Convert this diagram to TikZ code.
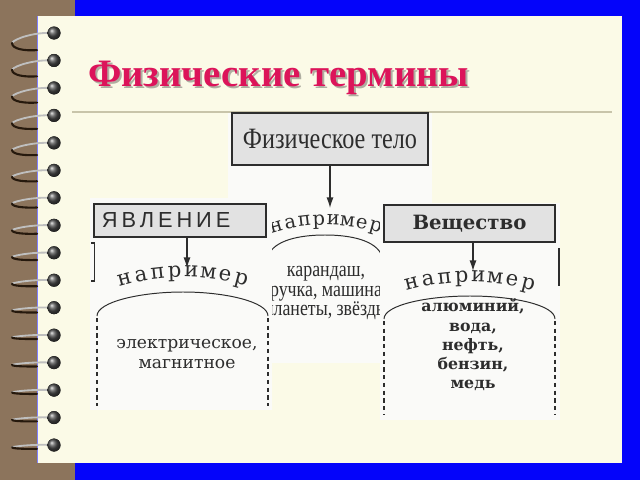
\documentclass[tikz,border=0pt]{standalone}
\usepackage{fontspec}
\setmainfont{Liberation Serif}
\newfontfamily\titlefont{Liberation Serif}
\newfontfamily\scanfont{DejaVu Serif}
\newfontfamily\narrowfont[FakeStretch=0.82]{Liberation Serif}
\newfontfamily\handfont[LetterSpace=18]{Liberation Sans}
\usetikzlibrary{arrows.meta}

\definecolor{pagecream}{RGB}{251,250,231}
\definecolor{scanwhite}{RGB}{250,250,248}
\definecolor{spinebrown}{RGB}{140,116,92}
\definecolor{frameblue}{RGB}{4,4,250}
\definecolor{titlered}{RGB}{220,20,90}
\definecolor{inkgray}{RGB}{45,45,45}
\definecolor{boxgray}{RGB}{226,226,226}
\definecolor{rulegray}{RGB}{200,196,170}

\tikzset{
  termbox/.style={draw=inkgray, fill=boxgray, line width=0.9pt, inner sep=0pt, text=inkgray},
  arrowdown/.style={draw=inkgray, line width=0.9pt, -{Latex[length=7.5pt,width=5pt]}},
  arcletter/.style={inner sep=0pt, anchor=base, text=inkgray, font=\scanfont\fontsize{15}{16}\selectfont},
  examples/.style={inner sep=0pt, text=inkgray, align=center},
  arcline/.style={draw=inkgray, line width=0.7pt},
  dashside/.style={draw=inkgray, line width=0.9pt, dash pattern=on 3pt off 2.5pt},
  wireup/.style={draw=black!25, line width=1.3pt, line cap=round},
  wiredown/.style={draw=black!80!brown, line width=1.5pt, line cap=round},
  hole/.style={shading=ball, ball color=black!70}
}

\begin{document}
\begin{tikzpicture}[x=0.025cm, y=-0.025cm]
    \useasboundingbox (0,0) rectangle (640,480);

    % Background: spine, frame and page
    \fill[spinebrown] (0,0) rectangle (75,480);
    \fill[frameblue] (75,0) rectangle (640,480);
    \fill[pagecream] (37,16) rectangle (622,463);
    \draw[blue!50, line width=0.6pt] (37,16) -- (37,463);

    % Spiral rings
    \foreach \k in {0,...,15} {
        \pgfmathsetmacro\yy{33+27.47*\k}
        \pgfmathsetmacro\hh{max(4,18-1.3*\k)}
        \draw[wireup] (52,\yy) .. controls (35,\yy-1) and (15,\yy+0.3*\hh) .. (12,\yy+0.55*\hh);
        \draw[wiredown] (12,\yy+0.55*\hh) .. controls (12,\yy+0.9*\hh) and (25,\yy+\hh) .. (37,\yy+0.95*\hh);
        \fill[hole] (54,\yy) circle (6.5);
    }

    % Title and rule
    \node[anchor=base west, inner sep=0pt, text=black, opacity=0.3,
          font=\titlefont\bfseries\fontsize{27.6}{30}\selectfont] (titleshadow) at (90,89) {Физические термины};
    \node[anchor=base west, inner sep=0pt, text=titlered,
          font=\titlefont\bfseries\fontsize{27.6}{30}\selectfont] (title) at (88,87) {Физические термины};
    \draw[rulegray, line width=1.4pt] (72,112) -- (612,112);

    % Centre panel: physical body
    \fill[scanwhite] (228,113) rectangle (432,363);
    \node[termbox, minimum width=4.9cm, minimum height=1.3cm,
          font=\narrowfont\fontsize{21}{22}\selectfont] (telo) at (330,139) {Физическое тело};
    \coordinate (telotip) at (330,208);
    \draw[arrowdown] (telo.south) -- (telotip);
    \foreach \ch [count=\i from 0] in {н,а,п,р,и,м,е,р} {
        \pgfmathsetmacro\a{4.45*(3.5-\i)}
        \node[arcletter, rotate=\a, font=\scanfont\fontsize{13.8}{15}\selectfont] (napt-\i)
            at ({326-180*sin(\a)},{225+180*(1-cos(\a))}) {\ch};
    }
    \draw[arcline] (268,256) .. controls (274,240) and (300,235) .. (325,235) .. controls (350,235) and (376,240) .. (382,256);
    \node[examples, font=\narrowfont\fontsize{15.5}{14}\selectfont] (primtelo) at (326,293)
        {карандаш,\\ ручка, машина\\ планеты, звёзды};

    % Left panel: phenomenon
    \fill[scanwhite] (90,198) rectangle (272,410);
    \node[termbox, minimum width=4.3cm, minimum height=0.825cm, text width=3.9cm, align=left,
          inner xsep=0.2cm, font=\handfont\fontsize{15.5}{16}\selectfont] (javl) at (180,220.5) {ЯВЛЕНИЕ};
    \coordinate (javtip) at (187,268);
    \draw[arrowdown] (javtip |- javl.south) -- (javtip);
    \foreach \ch [count=\i from 0] in {н,а,п,р,и,м,е,р} {
        \pgfmathsetmacro\a{4.29*(3.5-\i)}
        \node[arcletter, rotate=\a] (napj-\i) at ({183-220*sin(\a)},{277+220*(1-cos(\a))}) {\ch};
    }
    \draw[arcline] (97,316) .. controls (97,302) and (140,292) .. (183,292) .. controls (226,292) and (268,302) .. (268,316);
    \draw[dashside] (97,318) -- (97,406);
    \draw[dashside] (268,318) -- (268,406);
    \draw[inkgray, line width=0.9pt] (91,243) -- (94.5,243) -- (94.5,281) -- (91,281);
    \node[examples, font=\scanfont\fontsize{12.2}{14.2}\selectfont] (primjavl) at (187,354)
        {электрическое,\\ магнитное};

    % Right panel: substance
    \fill[scanwhite] (380,203) rectangle (560,420);
    \node[termbox, minimum width=4.275cm, minimum height=0.925cm,
          font=\scanfont\bfseries\fontsize{14}{15}\selectfont] (vesch) at (469.5,223.5) {Вещество};
    \coordinate (veschtip) at (473,271);
    \draw[arrowdown] (veschtip |- vesch.south) -- (veschtip);
    \foreach \ch [count=\i from 0] in {н,а,п,р,и,м,е,р} {
        \pgfmathsetmacro\a{4.1*(3.5-\i)}
        \node[arcletter, rotate=\a] (napv-\i) at ({470-230*sin(\a)},{282+230*(1-cos(\a))}) {\ch};
    }
    \draw[arcline] (384,319) .. controls (384,305) and (427,296) .. (470,296) .. controls (513,296) and (555,305) .. (555,319);
    \draw[dashside] (384,321) -- (384,414);
    \draw[dashside] (555,321) -- (555,414);
    \draw[inkgray, line width=0.9pt] (559,248) -- (559,286);
    \node[examples, font=\scanfont\bfseries\fontsize{11.2}{13.7}\selectfont] (primvesch) at (473,345)
        {алюминий,\\ вода,\\ нефть,\\ бензин,\\ медь};
\end{tikzpicture}
\end{document}
